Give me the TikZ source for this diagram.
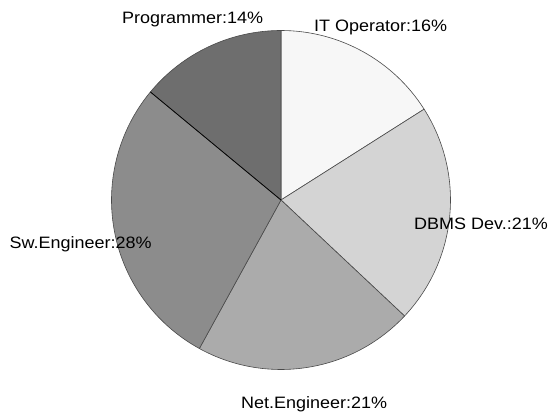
\documentclass[tikz,border=0pt]{standalone}
\usepackage{fontspec}
\setmainfont{Liberation Sans}
\definecolor{cIT}{HTML}{F7F7F7}
\definecolor{cDB}{HTML}{D4D4D4}
\definecolor{cNet}{HTML}{ABABAB}
\definecolor{cSw}{HTML}{8C8C8C}
\definecolor{cProg}{HTML}{6E6E6E}
\definecolor{edge}{HTML}{4A4A4A}
\begin{document}
\begin{tikzpicture}[x=1pt,y=1pt,
  slice/.style={draw=edge,line width=0.6pt,line join=round},
  lbl/.style={anchor=base west,inner sep=0pt,font=\fontsize{16.5pt}{19pt}\selectfont}]
\useasboundingbox (0,0) rectangle (552,412);
\fill[white] (0,0) rectangle (552,412);
\coordinate (C) at (281,212);
\def\R{169.5}
\filldraw[slice,fill=cIT]   (C) -- ++(90:\R) arc (90:32.4:\R) -- cycle;
\filldraw[slice,fill=cDB]   (C) -- ++(32.4:\R) arc (32.4:-43.2:\R) -- cycle;
\filldraw[slice,fill=cNet]  (C) -- ++(-43.2:\R) arc (-43.2:-118.8:\R) -- cycle;
\filldraw[slice,fill=cSw]   (C) -- ++(-118.8:\R) arc (-118.8:-219.6:\R) -- cycle;
\filldraw[slice,fill=cProg] (C) -- ++(-219.6:\R) arc (-219.6:-270:\R) -- cycle;
\draw[black,line width=0.7pt] (C) -- ++(-219.6:\R);
\node[lbl] (prog) at (122,388) {\scalebox{1.09}[1]{Programmer:14\%}};
\node[lbl] (itop) at (314,380.5) {\scalebox{1.09}[1]{IT Operator:16\%}};
\node[lbl] (dbms) at (414,182) {\scalebox{1.09}[1]{DBMS Dev.:21\%}};
\node[lbl] (sw)   at (9.5,163)  {\scalebox{1.09}[1]{Sw.Engineer:28\%}};
\node[lbl] (net)  at (241,3.5) {\scalebox{1.09}[1]{Net.Engineer:21\%}};
\end{tikzpicture}
\end{document}
